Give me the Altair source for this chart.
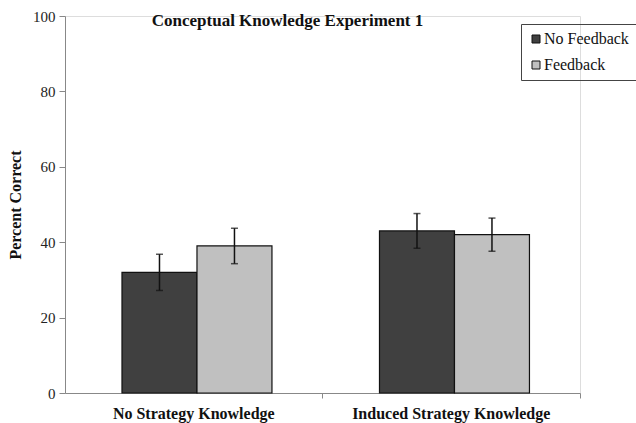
import altair as alt
import pandas as pd

# Conceptual knowledge scores by condition (Experiment 1)
conditions = ["No Strategy Knowledge", "Induced Strategy Knowledge"]
groups = ["No Feedback", "Feedback"]
means = [[32, 39], [43, 42]]
errors = [[4.8, 4.7], [4.6, 4.4]]

rows = []
for ci, cond in enumerate(conditions):
    for gi, grp in enumerate(groups):
        m = means[ci][gi]
        e = errors[ci][gi]
        rows.append({"condition": cond, "group": grp, "mean": m,
                     "lo": m - e, "hi": m + e})
df = pd.DataFrame(rows)

SERIF = "Liberation Serif"

x_enc = alt.X("condition:N", sort=conditions, title=None,
              scale=alt.Scale(paddingInner=0, paddingOuter=0),
              axis=alt.Axis(labelAngle=0, labelFont=SERIF, labelFontSize=16,
                            labelFontWeight="bold", labelColor="#111",
                            labelPadding=7, labelLimit=0, bandPosition=1,
                            tickSize=5, tickColor="#888", domainColor="#888"))
xoff = alt.XOffset("group:N", sort=groups,
                   scale=alt.Scale(paddingInner=0, paddingOuter=0.717, align=0.53))
y_scale = alt.Scale(domain=[0, 100], nice=False)

bars = alt.Chart(df).mark_bar(stroke="#111", strokeWidth=1.2).encode(
    x=x_enc,
    xOffset=xoff,
    y=alt.Y("mean:Q", scale=y_scale, title="Percent Correct",
            axis=alt.Axis(values=[0, 20, 40, 60, 80, 100], grid=False,
                          labelFont=SERIF, labelFontSize=15, labelColor="#222",
                          labelPadding=4, tickSize=6, tickColor="#888",
                          domainColor="#888", titleFont=SERIF, titleFontSize=16,
                          titleFontWeight="bold", titleColor="#111",
                          titlePadding=9)),
    color=alt.Color("group:N", sort=groups,
                    scale=alt.Scale(domain=groups, range=["#404040", "#c0c0c0"]),
                    legend=alt.Legend(title=None, orient="none", legendX=456,
                                      legendY=8, strokeColor="#444",
                                      padding=7, rowPadding=10,
                                      symbolType="square", symbolSize=64,
                                      symbolStrokeColor="#111",
                                      symbolStrokeWidth=1,
                                      labelFont=SERIF, labelFontSize=16,
                                      labelColor="#111", labelOffset=0)),
)

whisker = alt.Chart(df).mark_rule(color="#111", strokeWidth=1.5).encode(
    x=alt.X("condition:N", sort=conditions),
    xOffset=xoff,
    y="lo:Q",
    y2="hi:Q",
)
cap_lo = alt.Chart(df).mark_tick(color="#111", thickness=1.5, size=7,
                                 orient="horizontal").encode(
    x=alt.X("condition:N", sort=conditions), xOffset=xoff, y="lo:Q")
cap_hi = alt.Chart(df).mark_tick(color="#111", thickness=1.5, size=7,
                                 orient="horizontal").encode(
    x=alt.X("condition:N", sort=conditions), xOffset=xoff, y="hi:Q")

chart = alt.layer(bars, whisker, cap_lo, cap_hi).properties(
    width=515,
    height=377,
    title=alt.TitleParams("Conceptual Knowledge Experiment 1", font=SERIF,
                          fontSize=17, fontWeight="bold", color="#111",
                          anchor="middle", dx=-35, baseline="top", dy=25),
    autosize=alt.AutoSizeParams(type="none"),
    padding={"left": 65, "top": 16, "right": 56, "bottom": 30},
).configure_view(stroke=None).configure(
    background="white", font=SERIF
).configure_legend(labelFont=SERIF)

chart.save("out.html", embed_options={"renderer": "svg", "actions": False})
